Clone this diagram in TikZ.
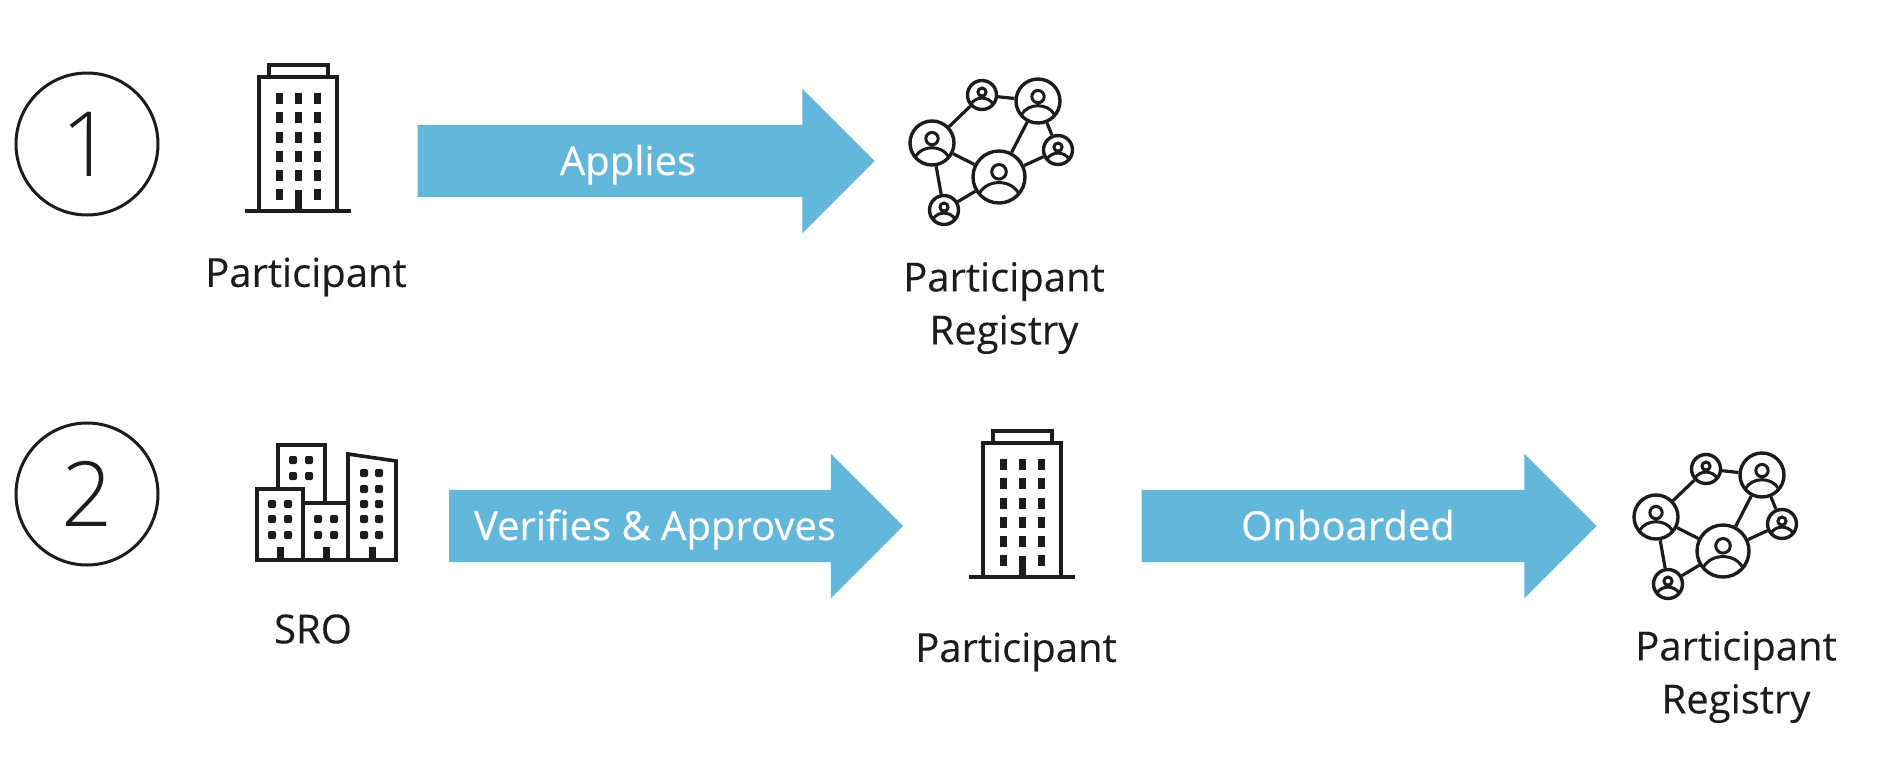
\documentclass[tikz,border=0pt]{standalone}
\usepackage{fontspec}
\setmainfont{Open Sans}
\usetikzlibrary{shapes.arrows}
\definecolor{arrowblue}{HTML}{63B7DB}
\definecolor{ink}{HTML}{1C1C1C}
\newfontfamily\thinfont{Open Sans Light}
\newfontfamily\labelfont[FakeBold=0.15]{Open Sans}
\newfontfamily\flowfont[FakeBold=0.4]{Open Sans}
\tikzset{
	label/.style={text=ink,align=center,font=\labelfont\fontsize{20}{26.5}\selectfont},
	step number/.style={circle,draw=ink,line width=1.5pt,minimum size=71pt,inner sep=0pt,text=ink,font=\thinfont\fontsize{45}{45}\selectfont},
	flow/.style={single arrow,fill=arrowblue,text=white,inner sep=0pt,text height=24.875pt,text depth=10.875pt,minimum width=71.5pt,single arrow head extend=18pt,single arrow tip angle=90,minimum height=#1,font=\flowfont\fontsize{20}{20}\selectfont},
	member/.style={circle,draw=ink,line width=1.7pt,inner sep=0pt,minimum size=#1 pt,
		path picture={\draw[ink,line width=1.5pt,shift={(path picture bounding box.center)}] (0,{-.2*#1}) circle ({.28*#1}) ({-.75*#1},{.62*#1}) .. controls ({-.45*#1},{.08*#1}) and ({.45*#1},{.08*#1}) .. ({.75*#1},{.62*#1});}},
	link/.style={draw=ink,line width=1.6pt},
	tower/.pic={
		\draw[ink,line width=1.8pt] (-39,0) rectangle (39,-134) (-29,-134) -- (-29,-146) -- (30,-146) -- (30,-134) (-53,0) -- (53,0);
		\foreach \x in {-19,0,19} \foreach \y in {-113,-94,-74,-55,-36} \fill[ink] (\x-3.5,\y-5.5) rectangle (\x+3.5,\y+5.5);
		\foreach \x in {-19,19} \fill[ink] (\x-3.5,-22.5) rectangle (\x+3.5,-11.5);
		\fill[ink] (-3.5,-21) rectangle (3.5,0);
	},
	city/.pic={
		\draw[ink,line width=1.8pt,line join=miter] (257,560) rectangle (303,489) (278,489) -- (278,445) -- (325,445) -- (325,503) (303,503) -- (348,503) (303,560) -- (396,560) -- (396,461) -- (348,454) -- (348,560);
		\foreach \x/\y in {272/504,288/504,272/519,288/519,272/535,288/535,293/460,309/460,293/476,309/476,318/519,334/519,318/535,334/535,364/473,379/473,364/489,379/489,364/504,379/504,364/519,379/519,364/535,379/535}
			\fill[ink,rounded corners=1pt] (\x-4,\y-4) rectangle (\x+4,\y+4);
		\foreach \x in {280,326,372} \fill[ink] (\x-3.5,547) rectangle (\x+3.5,560);
	},
	network/.pic={
		\node[member=26] (-big) at (0,0) {};
		\node[member=22] (-left) at (-67,-34) {};
		\node[member=14.5] (-top) at (-17,-82) {};
		\node[member=22] (-corner) at (39,-76) {};
		\node[member=14.5] (-right) at (59,-27) {};
		\node[member=14.5] (-low) at (-55,33) {};
		\draw[link] (-left) -- (-top);
		\draw[link] (-top) -- (-corner);
		\draw[link] (-corner) -- (-big);
		\draw[link] (-corner) -- (-right);
		\draw[link] (-right) -- (-big);
		\draw[link] (-big) -- (-left);
		\draw[link] (-left) -- (-low);
		\draw[link] (-low) -- (-big);
	}
}
\begin{document}
\begin{tikzpicture}[x=.5pt,y=-.5pt]
	\useasboundingbox (0,0) rectangle (1886,766);
	\node[step number] (one) at (87,144) {1};
	\node[step number] (two) at (87,494) {2};

	\pic (towerone) at (298,211) {tower};
	\node[label] (participantone) at (306,277) {Participant};
	\node[flow=228.5pt] (applies) at (628,161) {Applies};
	\pic (netone) at (999,177) {network};
	\node[label] (registryone) at (1004,308) {Participant\\Registry};

	\pic (sro) at (0,0) {city};
	\node[label] (srolabel) at (313,629) {SRO};
	\node[flow=227pt] (verifies) at (658,526) {Verifies \& Approves\hspace*{3pt}};
	\pic (towertwo) at (1022,577) {tower};
	\node[label] (participanttwo) at (1016,652) {Participant};
	\node[flow=227.5pt] (onboarded) at (1351,526) {Onboarded\hspace*{3pt}};
	\pic (nettwo) at (1723,551) {network};
	\node[label] (registrytwo) at (1736,677) {Participant\\Registry};
\end{tikzpicture}
\end{document}
